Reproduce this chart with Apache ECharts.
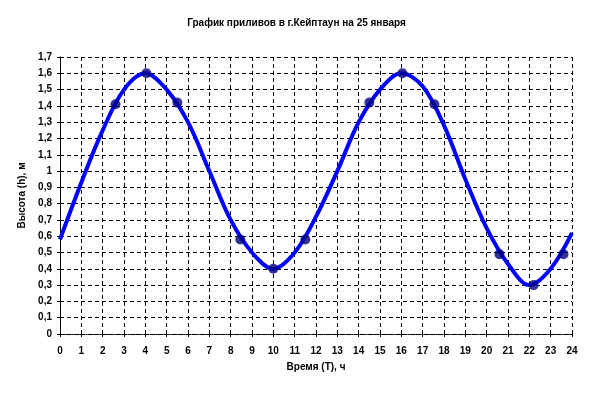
<!DOCTYPE html>
<html><head><meta charset="utf-8">
<script src="https://cdn.jsdelivr.net/npm/echarts@6/dist/echarts.min.js"></script>
<style>html,body{margin:0;padding:0;background:#fff}#c{width:593px;height:393px}</style>
</head><body><div id="c"></div>
<script>
const titleText = "График приливов в г.Кейптаун на 25 января";
const xName = "Время (T), ч";
const yName = "Высота (h), м";
// smooth curve read at hourly positions
const curveX = [0,1,2,3,4,5,6,7,8,9,10,11,12,13,14,15,16,17,18,19,20,21,22,23,24];
const curveY = [0.58,0.93,1.25,1.5,1.6,1.5,1.3,1.0,0.7,0.5,0.4,0.5,0.72,1.0,1.3,1.5,1.6,1.52,1.28,0.95,0.65,0.43,0.3,0.4,0.62];
// marked points
const markX = [2.6,4.05,5.5,8.45,10,11.5,14.5,16.05,17.55,20.6,22.2,23.6];
const markY = [1.41,1.6,1.42,0.58,0.4,0.58,1.42,1.6,1.41,0.49,0.3,0.49];

const chart = echarts.init(document.getElementById('c'));
const fontFam = 'Liberation Sans, Arial, sans-serif';
chart.setOption({
  animation:false,
  title:{text:titleText,left:'center',top:13,textStyle:{fontSize:10,fontWeight:'bold',color:'#000',fontFamily:fontFam}},
  grid:{left:60,right:21,top:57,bottom:59,show:false},
  xAxis:{type:'value',min:0,max:24,interval:1,
    name:xName,nameLocation:'middle',nameGap:28,
    nameTextStyle:{fontSize:10,fontWeight:'bold',color:'#000',fontFamily:fontFam},
    axisLine:{lineStyle:{color:'#000',type:'dotted',width:1}},
    axisTick:{show:true,length:3,inside:false,lineStyle:{color:'#000'}},
    axisLabel:{fontSize:10,fontWeight:'bold',color:'#000',margin:12,fontFamily:fontFam},
    splitLine:{show:true,lineStyle:{color:'#000',type:[4,3],width:1}}},
  yAxis:{type:'value',min:0,max:1.7,interval:0.1,
    name:yName,nameLocation:'middle',nameGap:33,
    nameTextStyle:{fontSize:10,fontWeight:'bold',color:'#000',fontFamily:fontFam},
    axisLine:{show:true,lineStyle:{color:'#000',width:1}},
    axisTick:{show:true,length:3,lineStyle:{color:'#000'}},
    axisLabel:{fontSize:10,fontWeight:'bold',color:'#000',margin:8,fontFamily:fontFam,
      formatter:v=>(Math.round(v*10)/10).toString().replace('.',',')},
    splitLine:{show:true,lineStyle:{color:'#000',type:[4,3],width:1}}},
  series:[
    {type:'line',smooth:0.35,showSymbol:false,data:curveX.map((x,i)=>[x,curveY[i]]),
     lineStyle:{color:'#0000ff',width:4},z:2},
    {type:'scatter',symbolSize:10,data:markX.map((x,i)=>[x,markY[i]]),
     itemStyle:{color:'#000080'},z:3}
  ]
});
</script></body></html>
